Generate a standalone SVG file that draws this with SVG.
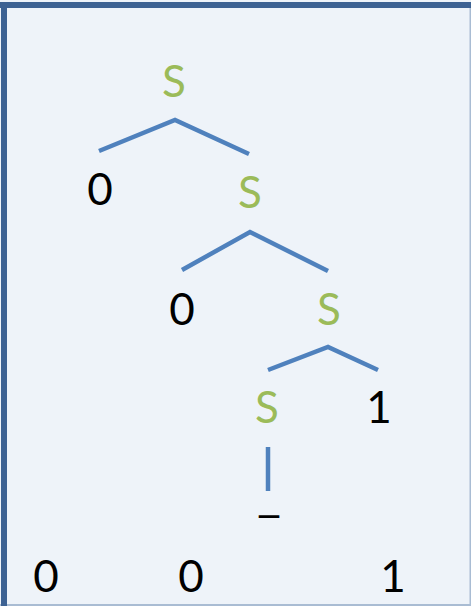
<svg xmlns="http://www.w3.org/2000/svg" width="471" height="606" viewBox="0 0 471 606">
<style>
.t{font-family:Lato,"Open Sans","Liberation Sans",sans-serif;font-size:44px;text-anchor:middle}
.s{fill:#9BBB59}
.d{fill:#000}
.e{fill:none;stroke:#4F81BD;stroke-width:4.5}
</style>
<rect x="0" y="0" width="471" height="606" fill="#EEF3F9"/>
<rect x="469.5" y="2" width="1.5" height="604" fill="#A9BCD3"/>
<rect x="0" y="604" width="471" height="2" fill="#A9BCD3"/>
<rect x="0" y="2" width="471" height="6" fill="#3D6293"/>
<rect x="1" y="2" width="6" height="604" fill="#3D6293"/>
<g id="connectors">
<polyline class="e" points="99,151 175,120 249,154"/>
<polyline class="e" points="182,270 250,232 328,271"/>
<polyline class="e" points="268,370 328,347 378,370"/>
<line class="e" x1="268" y1="447" x2="268" y2="491"/>
</g>
<g id="n1"><text class="t s" x="174" y="97">S</text></g>
<g id="n2"><text class="t d" x="100" y="205">0</text></g>
<g id="n3"><text class="t s" x="250" y="208">S</text></g>
<g id="n4"><text class="t d" x="182" y="325">0</text></g>
<g id="n5"><text class="t s" x="329" y="325">S</text></g>
<g id="n6"><text class="t s" x="267" y="423">S</text></g>
<g id="n7"><text class="t d" x="379" y="423">1</text></g>
<g id="n8"><text class="t d" x="269" y="512" textLength="24" lengthAdjust="spacingAndGlyphs">_</text></g>
<g id="n9"><text class="t d" x="46" y="592">0</text></g>
<g id="n10"><text class="t d" x="191" y="592">0</text></g>
<g id="n11"><text class="t d" x="393" y="592">1</text></g>
</svg>
